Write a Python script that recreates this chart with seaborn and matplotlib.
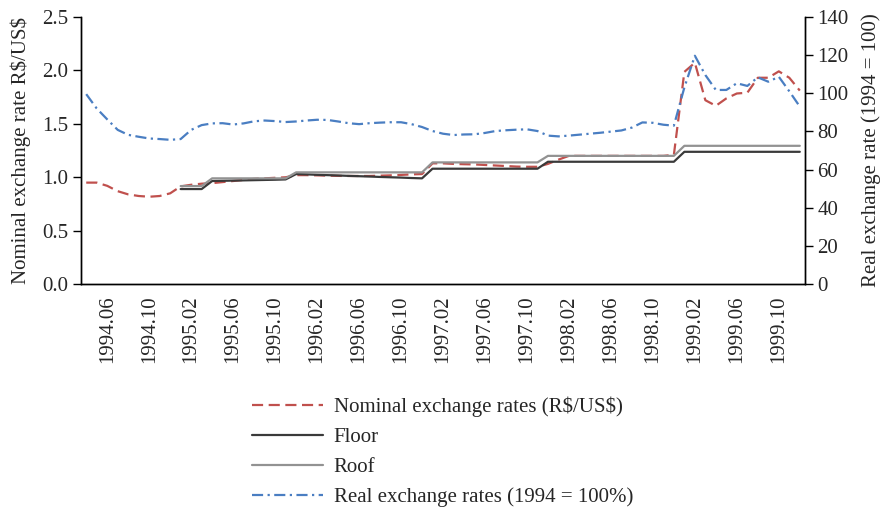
import numpy as np
import pandas as pd
import matplotlib
matplotlib.use('Agg')
import matplotlib.pyplot as plt
import seaborn as sns

# Monthly categories from 1994.04 to 1999.12 (69 months)
n_months = 69
tick_labels = ['1994.06', '1994.10', '1995.02', '1995.06', '1995.10', '1996.02',
               '1996.06', '1996.10', '1997.02', '1997.06', '1997.10', '1998.02',
               '1998.06', '1998.10', '1999.02', '1999.06', '1999.10']
tick_pos = [2, 6, 10, 14, 18, 22, 26, 30, 34, 38, 42, 46, 50, 54, 58, 62, 66]

# Nominal exchange rate R$/US$ (left axis)
nominal = [0.95, 0.95, 0.92, 0.87, 0.84, 0.825, 0.818, 0.825, 0.85, 0.915,
           0.93, 0.94, 0.945, 0.955, 0.965, 0.975, 0.985, 0.99, 0.995, 1.0,
           1.02, 1.02, 1.018, 1.015, 1.013, 1.012, 1.012, 1.012, 1.015, 1.018,
           1.022, 1.027, 1.03, 1.13, 1.13, 1.125, 1.122, 1.12, 1.115, 1.11,
           1.105, 1.10, 1.098, 1.098, 1.125, 1.165, 1.20, 1.20, 1.20, 1.20,
           1.20, 1.20, 1.20, 1.20, 1.20, 1.20, 1.21, 1.985, 2.07, 1.72,
           1.668, 1.737, 1.783, 1.79, 1.93, 1.93, 1.99, 1.93, 1.81]

# Real exchange rate, 1994 = 100 (right axis)
real = [99.5, 92.0, 86.3, 80.8, 78.2, 77.2, 76.3, 76.0, 75.6, 76.0,
        80.8, 83.3, 84.2, 84.3, 83.6, 84.2, 85.3, 85.7, 85.4, 84.9,
        85.2, 85.7, 86.1, 86.0, 85.2, 84.3, 83.8, 84.3, 84.6, 84.8,
        84.8, 83.8, 82.3, 80.2, 78.8, 78.1, 78.4, 78.5, 79.2, 80.2,
        80.6, 80.9, 81.1, 80.2, 77.8, 77.4, 77.8, 78.3, 78.8, 79.3,
        79.9, 80.5, 82.0, 84.7, 84.5, 83.5, 83.0, 103.0, 119.6, 109.5,
        101.7, 101.7, 105.2, 103.8, 108.3, 106.0, 108.6, 101.0, 93.0]

# Exchange rate band, from 1995.01 (index 9) onwards
band_start = 9
floor = [0.89, 0.89, 0.89,
         0.965, 0.967, 0.969, 0.971, 0.973, 0.975, 0.977, 0.98,
         1.03, 1.027, 1.023, 1.02, 1.017, 1.013, 1.01, 1.007, 1.003, 1.0, 0.997, 0.993, 0.99,
         1.08, 1.08, 1.08, 1.08, 1.08, 1.08, 1.08, 1.08, 1.08, 1.08, 1.08,
         1.145, 1.145, 1.145, 1.145, 1.145, 1.145, 1.145, 1.145, 1.145, 1.145, 1.145, 1.145, 1.145,
         1.238, 1.238, 1.238, 1.238, 1.238, 1.238, 1.238, 1.238, 1.238, 1.238, 1.238, 1.238]
roof = [0.918, 0.918, 0.918,
        0.99, 0.99, 0.99, 0.99, 0.99, 0.99, 0.99, 0.99,
        1.046, 1.046, 1.046, 1.046, 1.046, 1.046, 1.046, 1.046, 1.046, 1.046, 1.046, 1.046, 1.046,
        1.139, 1.139, 1.139, 1.139, 1.139, 1.139, 1.139, 1.139, 1.139, 1.139, 1.139,
        1.20, 1.20, 1.20, 1.20, 1.20, 1.20, 1.20, 1.20, 1.20, 1.20, 1.20, 1.20, 1.20,
        1.294, 1.294, 1.294, 1.294, 1.294, 1.294, 1.294, 1.294, 1.294, 1.294, 1.294, 1.294]

df = pd.DataFrame({'month': np.arange(n_months), 'nominal': nominal, 'real': real})
band = pd.DataFrame({'month': np.arange(band_start, band_start + len(floor)),
                     'floor': floor, 'roof': roof})

sns.set_style('white')
plt.rcParams['font.family'] = ['Liberation Serif', 'DejaVu Serif']

fig = plt.figure(figsize=(8.87, 5.08), dpi=100)
ax = fig.add_axes([0.0913, 0.4404, 0.8163, 0.5266])
ax2 = ax.twinx()

sns.lineplot(data=df, x='month', y='nominal', ax=ax, color='#C0504D', lw=1.6,
             linestyle=(0, (5, 2.5)), label=r'Nominal exchange rates (R\$/US\$)')
sns.lineplot(data=band, x='month', y='floor', ax=ax, color='#3A3A3A', lw=1.6, label='Floor')
sns.lineplot(data=band, x='month', y='roof', ax=ax, color='#929292', lw=1.6, label='Roof')
sns.lineplot(data=df, x='month', y='real', ax=ax2, color='#4A7EC2', lw=1.6,
             linestyle=(0, (5, 2, 1, 2)), label='Real exchange rates (1994 = 100%)')

h1, l1 = ax.get_legend_handles_labels()
h2, l2 = ax2.get_legend_handles_labels()
ax.get_legend().remove()
ax2.get_legend().remove()

fs = 15
ax.set_xlim(-0.5, n_months - 0.5)
ax.set_ylim(0, 2.5)
ax2.set_ylim(0, 140)
ax.set_yticks(np.arange(0, 2.51, 0.5))
ax.set_yticklabels([f'{v:.1f}' for v in np.arange(0, 2.51, 0.5)], fontsize=fs)
ax2.set_yticks(np.arange(0, 141, 20))
ax2.set_yticklabels([str(v) for v in range(0, 141, 20)], fontsize=fs)

# tick marks between categories, labels centred on categories
ax.set_xticks(np.arange(-0.5, n_months, 1.0))
ax.set_xticklabels([])
ax.set_xticks(tick_pos, minor=True)
ax.set_xticklabels(tick_labels, minor=True, rotation=90, fontsize=fs)
ax.tick_params(axis='x', which='major', direction='out', length=6, width=1, color='black')
ax.tick_params(axis='x', which='minor', length=0, pad=8)
ax.tick_params(axis='y', direction='out', length=6, width=1, color='black', pad=3)
ax2.tick_params(axis='y', direction='out', length=6, width=1, color='black', pad=3)

ax.set_xlabel('')
ax.set_ylabel(r'Nominal exchange rate R\$/US\$', fontsize=fs, labelpad=8)
ax2.set_ylabel('Real exchange rate (1994 = 100)', fontsize=fs, labelpad=9)

for a in (ax, ax2):
    a.spines['top'].set_visible(False)
    for s in ('left', 'right', 'bottom'):
        a.spines[s].set_color('black')
        a.spines[s].set_linewidth(1.0)

fig.legend(h1 + h2, l1 + l2, loc='upper left', bbox_to_anchor=(0.275, 0.236),
           frameon=False, fontsize=fs, handlelength=3.4, handletextpad=0.5,
           labelspacing=0.5, borderaxespad=0)

fig.savefig('out.png', dpi=100)
